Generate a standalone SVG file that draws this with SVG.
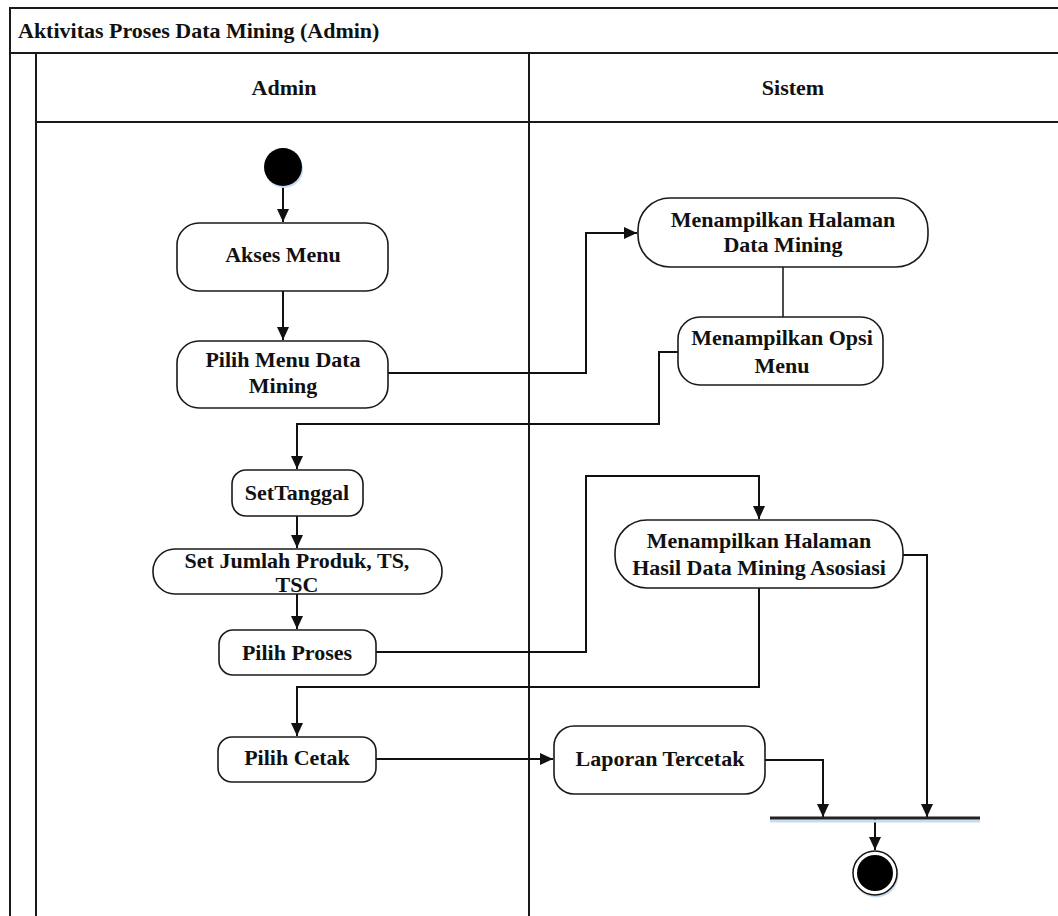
<svg xmlns="http://www.w3.org/2000/svg" width="1058" height="916" viewBox="0 0 1058 916">
  <style>
    .frame { stroke: #1a1a1a; stroke-width: 2; fill: none; }
    .act { fill: #ffffff; stroke: #1a1a1a; stroke-width: 1.6; }
    .lbl { font-family: "Liberation Serif", "Times New Roman", serif; font-weight: bold; font-size: 22px; fill: #111111; text-anchor: middle; }
    .conn { stroke: #111111; stroke-width: 2; fill: none; }
  </style>
  <defs>
    <marker id="arrow" markerUnits="userSpaceOnUse" markerWidth="14" markerHeight="14" refX="13" refY="7" orient="auto">
      <path d="M0,1 L13,7 L0,13 Z" fill="#111111"/>
    </marker>
  </defs>

  <rect x="0" y="0" width="1058" height="916" fill="#ffffff"/>

  <!-- swimlane frame -->
  <g id="frame">
    <line class="frame" x1="10" y1="8" x2="1058" y2="8"/>
    <line class="frame" x1="10" y1="7" x2="10" y2="916"/>
    <line class="frame" x1="10" y1="53" x2="1058" y2="53"/>
    <line class="frame" x1="36" y1="53" x2="36" y2="916"/>
    <line class="frame" x1="36" y1="122" x2="1058" y2="122"/>
    <line class="frame" x1="529" y1="53" x2="529" y2="916"/>
    <text class="lbl" x="18" y="38" style="text-anchor:start">Aktivitas Proses Data Mining (Admin)</text>
    <text class="lbl" x="284" y="95">Admin</text>
    <text class="lbl" x="793" y="95">Sistem</text>
  </g>

  <!-- connectors -->
  <g id="connectors">
    <line class="conn" x1="283" y1="185" x2="283" y2="222" marker-end="url(#arrow)"/>
    <line class="conn" x1="283" y1="291" x2="283" y2="340" marker-end="url(#arrow)"/>
    <polyline class="conn" points="388,373 586,373 586,233 637,233" marker-end="url(#arrow)"/>
    <line class="conn" x1="783" y1="267" x2="783" y2="317" style="stroke-width:1.5"/>
    <polyline class="conn" points="678,352 659,352 659,424 297,424 297,469" marker-end="url(#arrow)"/>
    <line class="conn" x1="297" y1="516" x2="297" y2="548" marker-end="url(#arrow)"/>
    <line class="conn" x1="297" y1="594" x2="297" y2="629" marker-end="url(#arrow)"/>
    <polyline class="conn" points="376,652 586,652 586,476 759,476 759,519" marker-end="url(#arrow)"/>
    <polyline class="conn" points="759,588 759,687 297,687 297,736" marker-end="url(#arrow)"/>
    <polyline class="conn" points="903,555 927,555 927,817" marker-end="url(#arrow)"/>
    <line class="conn" x1="376" y1="759" x2="553" y2="759" marker-end="url(#arrow)"/>
    <polyline class="conn" points="765,760 823,760 823,817" marker-end="url(#arrow)"/>
    <line class="conn" x1="875" y1="818" x2="875" y2="850" marker-end="url(#arrow)"/>
  </g>

  <!-- initial node -->
  <g id="start">
    <circle cx="284" cy="169" r="19" fill="#c9dcef"/>
    <circle cx="283" cy="167" r="19" fill="#000000"/>
  </g>

  <g id="akses-menu">
    <rect class="act" x="177" y="223" width="211" height="68" rx="22"/>
    <text class="lbl" x="283" y="262">Akses Menu</text>
  </g>

  <g id="pilih-menu-data-mining">
    <rect class="act" x="177" y="341" width="211" height="67" rx="22"/>
    <text class="lbl" x="283" y="367">Pilih Menu Data</text>
    <text class="lbl" x="283" y="393">Mining</text>
  </g>

  <g id="halaman-data-mining">
    <rect class="act" x="638" y="198" width="290" height="69" rx="32"/>
    <text class="lbl" x="783" y="227">Menampilkan Halaman</text>
    <text class="lbl" x="783" y="252">Data Mining</text>
  </g>

  <g id="opsi-menu">
    <rect class="act" x="678" y="317" width="205" height="68" rx="22"/>
    <text class="lbl" x="782" y="345">Menampilkan Opsi</text>
    <text class="lbl" x="782" y="373">Menu</text>
  </g>

  <g id="set-tanggal">
    <rect class="act" x="232" y="470" width="131" height="46" rx="14"/>
    <text class="lbl" x="297" y="500">SetTanggal</text>
  </g>

  <g id="set-jumlah">
    <rect class="act" x="153" y="549" width="289" height="45" rx="22"/>
    <text class="lbl" x="297" y="568">Set Jumlah Produk, TS,</text>
    <text class="lbl" x="297" y="592">TSC</text>
  </g>

  <g id="pilih-proses">
    <rect class="act" x="219" y="630" width="157" height="45" rx="14"/>
    <text class="lbl" x="297" y="660">Pilih Proses</text>
  </g>

  <g id="halaman-hasil">
    <rect class="act" x="615" y="520" width="288" height="68" rx="32"/>
    <text class="lbl" x="759" y="548">Menampilkan Halaman</text>
    <text class="lbl" x="759" y="575">Hasil Data Mining Asosiasi</text>
  </g>

  <g id="pilih-cetak">
    <rect class="act" x="218" y="737" width="158" height="45" rx="14"/>
    <text class="lbl" x="297" y="765">Pilih Cetak</text>
  </g>

  <g id="laporan-tercetak">
    <rect class="act" x="554" y="726" width="211" height="68" rx="20"/>
    <text class="lbl" x="660" y="766">Laporan Tercetak</text>
  </g>

  <!-- join bar -->
  <g id="join">
    <line x1="770" y1="821" x2="980" y2="821" stroke="#c9dcef" stroke-width="3"/>
    <line x1="770" y1="818" x2="980" y2="818" stroke="#222222" stroke-width="3"/>
  </g>

  <!-- final node -->
  <g id="end">
    <circle cx="876" cy="875" r="22.5" fill="#c9dcef"/>
    <circle cx="875" cy="873" r="22" fill="#ffffff" stroke="#111111" stroke-width="1.5"/>
    <circle cx="875" cy="873" r="18" fill="#000000"/>
  </g>
</svg>
